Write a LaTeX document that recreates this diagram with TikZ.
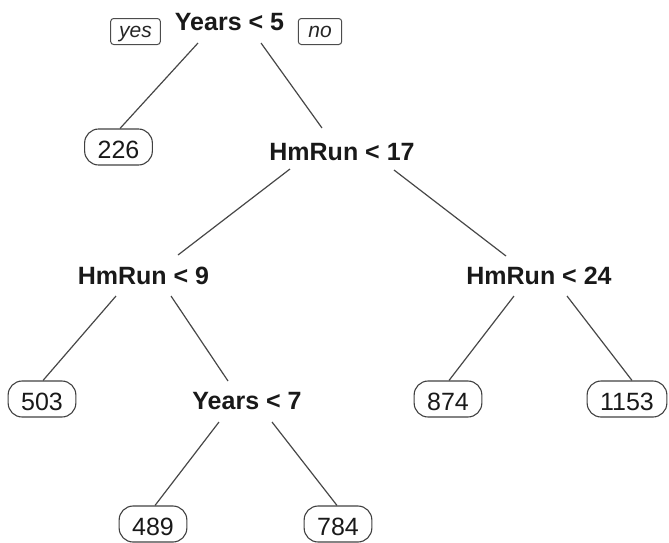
\documentclass[tikz,border=0pt]{standalone}
\usepackage{fontspec}
\setmainfont{Liberation Sans}
\begin{document}
\begin{tikzpicture}[x=1pt,y=-1pt,
  splitlbl/.style={anchor=base,inner sep=0pt,font=\fontsize{25}{30}\selectfont\bfseries,text=black!90},
  leafbox/.style={anchor=base,draw=black!75,line width=1.1pt,rounded corners=14pt,
    font=\fontsize{25}{30}\selectfont,text=black!90,text height=22pt,text depth=0pt,
    inner ysep=7pt,inner xsep=13pt},
  yesno/.style={anchor=base,draw=black!70,line width=1pt,rounded corners=3pt,
    font=\fontsize{21}{25}\selectfont\itshape,text=black!85,text height=15pt,text depth=4pt,
    inner ysep=3.5pt,inner xsep=8.5pt},
  branch/.style={draw=black!72,line width=1.2pt}]
\useasboundingbox (0,0) rectangle (669,542);
% split labels
\node[splitlbl] (y5)  at (229.5,30) {Years < 5};
\node[splitlbl] (h17) at (342,160) {HmRun < 17};
\node[splitlbl] (h9)  at (143.5,284) {HmRun < 9};
\node[splitlbl] (h24) at (539,284) {HmRun < 24};
\node[splitlbl] (y7)  at (247,409) {Years < 7};
% yes / no
\node[yesno] (yes) at (135.5,37) {yes};
\node[yesno,inner xsep=10pt] (no) at (320,37) {no};
% leaves
\node[leafbox] (l226)  at (118.5,158) {226};
\node[leafbox] (l503)  at (42,410) {503};
\node[leafbox] (l874)  at (448,410) {874};
\node[leafbox] (l1153) at (627,410) {1153};
\node[leafbox] (l489)  at (153,535) {489};
\node[leafbox] (l784)  at (338,535) {784};
% branches
\draw[branch] ([shift={(-31.5,13)}]y5.base) -- ([shift={(1.5,0)}]l226.north);
\draw[branch] ([shift={(31.5,13)}]y5.base) -- ([shift={(-20,-32)}]h17.base);
\draw[branch] ([shift={(-52,9)}]h17.base) -- ([shift={(34.5,-29)}]h9.base);
\draw[branch] ([shift={(52,10)}]h17.base) -- ([shift={(-33,-28)}]h24.base);
\draw[branch] ([shift={(-27.5,12)}]h9.base) -- ([shift={(1,0)}]l503.north);
\draw[branch] ([shift={(27.5,12)}]h9.base) -- ([shift={(-19,-28)}]y7.base);
\draw[branch] ([shift={(-25,12)}]h24.base) -- ([shift={(1,0)}]l874.north);
\draw[branch] ([shift={(28,12)}]h24.base) -- ([shift={(5,0)}]l1153.north);
\draw[branch] ([shift={(-28,13)}]y7.base) -- ([shift={(2,0)}]l489.north);
\draw[branch] ([shift={(25,13)}]y7.base) -- ([shift={(-1,0)}]l784.north);
\end{tikzpicture}
\end{document}
